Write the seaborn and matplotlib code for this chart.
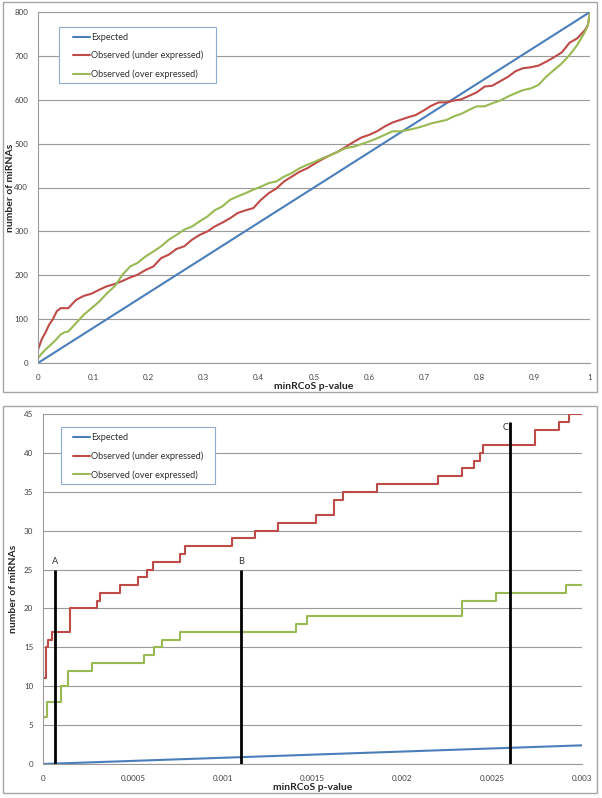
import numpy as np
import pandas as pd
import matplotlib
matplotlib.use("Agg")
import matplotlib.pyplot as plt
import seaborn as sns
from matplotlib.patches import Rectangle

# =====================
# DATA - full p-value range (top panel)
# =====================
top_p = [0, 0.007, 0.013, 0.02, 0.027, 0.034, 0.041, 0.048, 0.055, 0.069, 0.083, 0.097,
         0.111, 0.125, 0.139, 0.153, 0.167, 0.18, 0.195, 0.209, 0.223, 0.237, 0.251, 0.265,
         0.279, 0.293, 0.307, 0.32, 0.334, 0.348, 0.362, 0.376, 0.39, 0.404, 0.418, 0.432,
         0.446, 0.46, 0.474, 0.488, 0.502, 0.516, 0.53, 0.544, 0.558, 0.572, 0.586, 0.6,
         0.614, 0.628, 0.642, 0.656, 0.67, 0.684, 0.698, 0.712, 0.726, 0.74, 0.753, 0.767,
         0.781, 0.795, 0.809, 0.823, 0.837, 0.851, 0.865, 0.879, 0.893, 0.907, 0.921, 0.935,
         0.949, 0.963, 0.977, 0.991, 0.996, 1.0]
top_under = [30, 55, 68, 87, 100, 118, 125, 125, 125, 144, 153, 158,
             167, 175, 180, 187, 195, 201, 212, 220, 239, 247, 260, 266,
             281, 292, 300, 311, 320, 330, 342, 348, 353, 372, 387, 398,
             414, 425, 436, 444, 455, 465, 474, 482, 493, 504, 514, 520,
             528, 539, 548, 554, 560, 565, 575, 586, 594, 594, 598, 601,
             609, 617, 630, 632, 642, 652, 665, 672, 674, 678, 687, 697,
             708, 730, 740, 759, 770, 797]
top_over = [11, 22, 30, 38, 46, 55, 65, 70, 72, 91, 110, 125,
            140, 159, 175, 201, 220, 228, 243, 254, 266, 281, 292, 304,
            311, 323, 334, 348, 357, 372, 380, 387, 395, 402, 410, 414,
            425, 433, 444, 452, 459, 467, 474, 482, 490, 493, 499, 505,
            512, 520, 528, 528, 531, 535, 540, 546, 550, 554, 562, 568,
            577, 585, 585, 592, 598, 607, 615, 622, 626, 634, 653, 668,
            683, 702, 725, 755, 770, 797]
top_expected_p = [0, 1.0]
top_expected = [0, 800]

# =====================
# DATA - zoom on small p-values (bottom panel)
# =====================
low_under_p = [0.000003, 0.000015, 0.00003, 0.00005, 0.00015, 0.0003, 0.00032, 0.00043,
               0.00053, 0.00058, 0.00061, 0.00076, 0.00079, 0.00105, 0.00118, 0.00131,
               0.00152, 0.00162, 0.00167, 0.00186, 0.0022, 0.00233, 0.0024, 0.00243,
               0.00245, 0.00274, 0.00287, 0.00293, 0.003]
low_under = [11, 15, 16, 17, 20, 21, 22, 23,
             24, 25, 26, 27, 28, 29, 30, 31,
             32, 34, 35, 36, 37, 38, 39, 40,
             41, 43, 44, 45, 45]
low_over_p = [0.000003, 0.00002, 0.0001, 0.00014, 0.00027, 0.00056, 0.00062, 0.00066,
              0.00076, 0.00141, 0.00147, 0.00233, 0.00252, 0.00291, 0.003]
low_over = [6, 8, 10, 12, 13, 14, 15, 16,
            17, 18, 19, 21, 22, 23, 23]
low_expected_p = [0, 0.003]
low_expected = [0, 2.4]

cutoff_names = ["A", "B", "C"]
cutoff_p = [0.000065, 0.0011, 0.0026]
cutoff_height = [25, 25, 44]

COLORS = {"Expected": "#4a7ebb", "Observed (under expressed)": "#be4b48",
          "Observed (over expressed)": "#98b954"}

sns.set_style("white")
plt.rcParams["font.family"] = ["Lato", "DejaVu Sans"]

fig = plt.figure(figsize=(6.02, 7.98), dpi=100)

# grey frames around the two panels
fig.patches.append(Rectangle((3 / 602, 1 - 392 / 798), 594 / 602, 390 / 798,
                             transform=fig.transFigure, fill=False,
                             edgecolor="#a6a6a6", linewidth=1))
fig.patches.append(Rectangle((3 / 602, 1 - 793 / 798), 594 / 602, 387 / 798,
                             transform=fig.transFigure, fill=False,
                             edgecolor="#a6a6a6", linewidth=1))

ax1 = fig.add_axes([38 / 602, 1 - 363 / 798, 552 / 602, 351 / 798])
ax2 = fig.add_axes([43 / 602, 1 - 764 / 798, 539 / 602, 350 / 798])


def style_axis(ax, xticks, xlabels, ymax, ystep, ylab_x):
    ax.set_ylim(0, ymax)
    ax.set_yticks(np.arange(0, ymax + ystep / 2, ystep))
    ax.set_xticks(xticks)
    ax.set_xticklabels(xlabels)
    ax.grid(axis="y", color="#9a9a9a", linewidth=0.8)
    ax.grid(axis="x", visible=False)
    ax.set_axisbelow(True)
    for side in ["top", "right"]:
        ax.spines[side].set_visible(False)
    for side in ["left", "bottom"]:
        ax.spines[side].set_color("#9a9a9a")
        ax.spines[side].set_linewidth(0.8)
    ax.tick_params(axis="both", length=3, width=0.8, color="#9a9a9a",
                   labelsize=5.8, labelcolor="#404040", pad=4)
    ax.tick_params(axis="x", pad=5)
    ax.set_xlabel("minRCoS p-value", fontsize=7.5, fontweight="bold", va="center")
    ax.xaxis.set_label_coords(0.5, -0.067)
    ax.set_ylabel("number of miRNAs", fontsize=7.5, fontweight="bold", va="center")
    ax.yaxis.set_label_coords(ylab_x, 0.5)


def draw_lines(ax, series, step=False):
    for name, xs, ys in series:
        kw = {"drawstyle": "steps-post"} if step and name != "Expected" else {}
        sns.lineplot(x=xs, y=ys, ax=ax, color=COLORS[name], linewidth=1.5,
                     label=name, estimator=None, sort=False, **kw)


def add_legend(ax, anchor, box):
    leg = ax.legend(loc="upper left", bbox_to_anchor=anchor, borderaxespad=0,
                    fontsize=6.6, frameon=False, handlelength=1.85,
                    handletextpad=0.1, labelspacing=1.0, borderpad=0)
    for t in leg.get_texts():
        t.set_color("#303030")
    ax.add_patch(Rectangle(box[:2], box[2], box[3], transform=ax.transAxes,
                           facecolor="white", edgecolor="#8eaad0", linewidth=0.8,
                           zorder=leg.get_zorder() - 0.5))


# =====================
# TOP PANEL
# =====================
draw_lines(ax1, [("Expected", top_expected_p, top_expected),
                 ("Observed (under expressed)", top_p, top_under),
                 ("Observed (over expressed)", top_p, top_over)])
ax1.set_xlim(0, 1)
style_axis(ax1, np.arange(0, 1.01, 0.1),
           ["0", "0.1", "0.2", "0.3", "0.4", "0.5", "0.6", "0.7", "0.8", "0.9", "1"],
           800, 100, -0.05)
add_legend(ax1, (0.0634, 0.941), (0.038, 0.7977, 0.2844, 0.1595))

# =====================
# BOTTOM PANEL
# =====================
draw_lines(ax2, [("Expected", low_expected_p, low_expected),
                 ("Observed (under expressed)", low_under_p, low_under),
                 ("Observed (over expressed)", low_over_p, low_over)], step=True)
ax2.set_xlim(0, 0.003)
style_axis(ax2, np.arange(0, 0.00301, 0.0005),
           ["0", "0.0005", "0.001", "0.0015", "0.002", "0.0025", "0.003"], 45, 5, -0.054)
add_legend(ax2, (0.0557, 0.945), (0.0343, 0.8, 0.284, 0.163))

ax2.vlines(cutoff_p, 0, cutoff_height, color="black", linewidth=2)
for name, p, h in zip(cutoff_names, cutoff_p, cutoff_height):
    if name == "C":
        ax2.text(p - 0.00001, h - 0.2, name, ha="right", va="top", fontsize=6.6, color="#303030")
    else:
        ax2.text(p, h + 0.4, name, ha="center", va="bottom", fontsize=6.6, color="#303030")

fig.savefig("out.png", dpi=100)
